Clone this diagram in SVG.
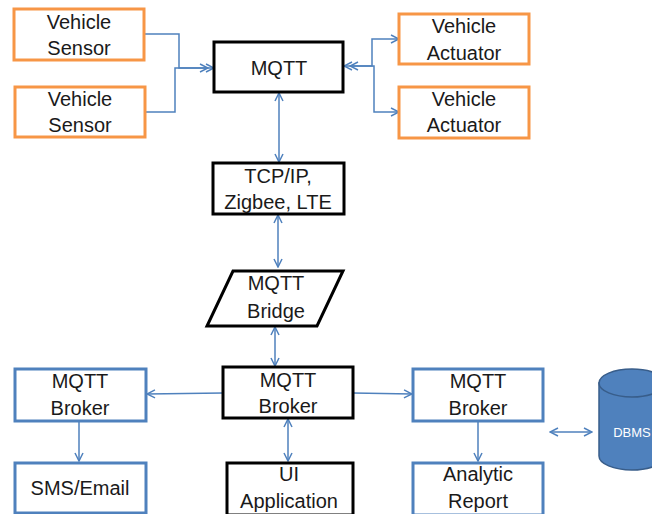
<svg xmlns="http://www.w3.org/2000/svg" width="652" height="514" viewBox="0 0 652 514">
  <style>
    .t { font-family: "Liberation Sans", Arial, sans-serif; font-size: 20px; fill: #1a1a1a; text-anchor: middle; }
    .orange { fill: #fff; stroke: #F79646; stroke-width: 3; }
    .black { fill: #fff; stroke: #000; stroke-width: 3; }
    .blue { fill: #fff; stroke: #4F81BD; stroke-width: 3; }
    .conn { fill: none; stroke: #4F81BD; stroke-width: 1.5; }
  </style>
  <defs>
    <marker id="arr" viewBox="0 0 10 10" refX="9" refY="5" markerWidth="10" markerHeight="10" markerUnits="userSpaceOnUse" orient="auto-start-reverse">
      <path d="M1,1 L9,5 L1,9" fill="none" stroke="#4F81BD" stroke-width="1.5"/>
    </marker>
  </defs>

  <rect width="652" height="514" fill="#fff"/>

  <g id="connectors">
    <path class="conn" d="M144,34 H179 V68 H214" marker-end="url(#arr)"/>
    <path class="conn" d="M145,112 H175 V68 H208" marker-end="url(#arr)"/>
    <path class="conn" d="M344,66 H372 V39 H399" marker-start="url(#arr)" marker-end="url(#arr)"/>
    <path class="conn" d="M350,66 H374 V112 H399" marker-start="url(#arr)" marker-end="url(#arr)"/>
    <path class="conn" d="M279,93 V162" marker-start="url(#arr)" marker-end="url(#arr)"/>
    <path class="conn" d="M278,215 V267" marker-start="url(#arr)" marker-end="url(#arr)"/>
    <path class="conn" d="M275,327 V366" marker-start="url(#arr)" marker-end="url(#arr)"/>
    <path class="conn" d="M223,393 L147,394" marker-end="url(#arr)"/>
    <path class="conn" d="M353,393 L412,394" marker-end="url(#arr)"/>
    <path class="conn" d="M79,421 V461" marker-end="url(#arr)"/>
    <path class="conn" d="M288,419 V461" marker-start="url(#arr)" marker-end="url(#arr)"/>
    <path class="conn" d="M478,421 V461" marker-end="url(#arr)"/>
    <path class="conn" d="M550,432 H592" marker-start="url(#arr)" marker-end="url(#arr)"/>
  </g>

  <g id="sensor1">
    <rect class="orange" x="14" y="9" width="130" height="51"/>
    <text class="t" x="79" y="29">Vehicle</text>
    <text class="t" x="79" y="55">Sensor</text>
  </g>
  <g id="sensor2">
    <rect class="orange" x="15" y="87" width="130" height="50"/>
    <text class="t" x="80" y="106">Vehicle</text>
    <text class="t" x="80" y="132">Sensor</text>
  </g>
  <g id="mqtt">
    <rect class="black" x="214" y="42" width="129" height="50"/>
    <text class="t" x="279" y="75">MQTT</text>
  </g>
  <g id="actuator1">
    <rect class="orange" x="399" y="14" width="130" height="50"/>
    <text class="t" x="464" y="33">Vehicle</text>
    <text class="t" x="464" y="60">Actuator</text>
  </g>
  <g id="actuator2">
    <rect class="orange" x="399" y="87" width="130" height="51"/>
    <text class="t" x="464" y="106">Vehicle</text>
    <text class="t" x="464" y="132">Actuator</text>
  </g>
  <g id="transport">
    <rect class="black" x="213" y="163" width="131" height="51"/>
    <text class="t" x="278" y="183">TCP/IP,</text>
    <text class="t" x="278" y="209">Zigbee, LTE</text>
  </g>
  <g id="bridge">
    <polygon class="black" points="233,271 343,271 317,326 207,326"/>
    <text class="t" x="276" y="290">MQTT</text>
    <text class="t" x="276" y="318">Bridge</text>
  </g>
  <g id="broker-center">
    <rect class="black" x="223" y="367" width="130" height="51"/>
    <text class="t" x="288" y="387">MQTT</text>
    <text class="t" x="288" y="413">Broker</text>
  </g>
  <g id="broker-left">
    <rect class="blue" x="15" y="369" width="131" height="52"/>
    <text class="t" x="80" y="388">MQTT</text>
    <text class="t" x="80" y="415">Broker</text>
  </g>
  <g id="broker-right">
    <rect class="blue" x="413" y="369" width="130" height="52"/>
    <text class="t" x="478" y="388">MQTT</text>
    <text class="t" x="478" y="415">Broker</text>
  </g>
  <g id="sms">
    <rect class="blue" x="15" y="463" width="131" height="50"/>
    <text class="t" x="80" y="495">SMS/Email</text>
  </g>
  <g id="ui">
    <rect class="black" x="227" y="463" width="126" height="52"/>
    <text class="t" x="289" y="481">UI</text>
    <text class="t" x="289" y="508">Application</text>
  </g>
  <g id="analytic">
    <rect class="blue" x="413" y="463" width="130" height="52"/>
    <text class="t" x="478" y="481">Analytic</text>
    <text class="t" x="478" y="508">Report</text>
  </g>
  <g id="dbms">
    <path d="M599,383 V456 A33,14 0 0 0 665,456 V383 Z" fill="#4F81BD" stroke="#385D8A" stroke-width="1.5"/>
    <ellipse cx="632" cy="383" rx="33" ry="14" fill="#4F81BD" stroke="#385D8A" stroke-width="1.5"/>
    <text x="632" y="437" font-family="Liberation Sans, Arial, sans-serif" font-size="13" fill="#fff" text-anchor="middle">DBMS</text>
  </g>
</svg>
